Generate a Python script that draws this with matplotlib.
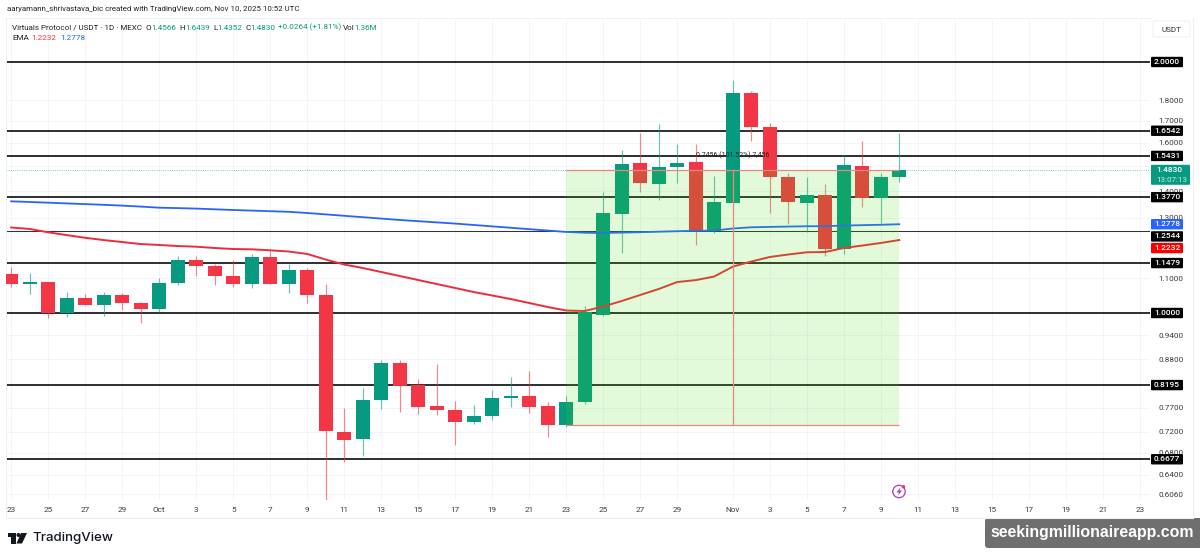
import matplotlib
matplotlib.use("Agg")
import matplotlib.pyplot as plt
from matplotlib.patches import Rectangle, FancyBboxPatch, Circle, Polygon
from matplotlib.ticker import NullLocator

# day index 0 = Sep 23
opens = [1.1137, 1.0834, 1.0893, 0.9992, 1.0431, 1.0215, 1.0518, 1.0280, 1.0103, 1.0872,
         1.1586, 1.1396, 1.1076, 1.0825, 1.1672, 1.0843, 1.1260, 1.0509, 0.7199, 0.7056,
         0.7864, 0.8704, 0.8190, 0.7728, 0.7644, 0.7400, 0.7525, 0.7901, 0.7951, 0.7728,
         0.7339, 0.7821, 0.9945, 1.3144, 1.5133, 1.4280, 1.4955, 1.5162, 1.2551, 1.3562,
         1.8347, 1.6700, 1.4548, 1.3562, 1.3841, 1.1923, 1.5021, 1.3727, 1.4566]
highs = [1.1365, 1.1158, 1.0893, 1.0606, 1.0539, 1.0606, 1.0559, 1.0317, 1.1006, 1.1705,
         1.1705, 1.1449, 1.1576, 1.1771, 1.1878, 1.1449, 1.1322, 1.0834, 0.7686, 0.8124,
         0.8782, 0.8782, 0.8341, 0.8679, 0.7842, 0.7749, 0.8085, 0.8372, 0.8519, 0.7827,
         0.7951, 1.0195, 1.3969, 1.5690, 1.6427, 1.6854, 1.5949, 1.5949, 1.4600, 1.9033,
         1.8480, 1.6915, 1.4708, 1.4548, 1.4280, 1.5471, 1.6080, 1.4733, 1.6439]
lows = [1.0753, 1.0539, 0.9863, 0.9898, 1.0215, 0.9926, 1.0083, 0.9736, 1.0036, 1.0803,
        1.1085, 1.0795, 1.0753, 1.0724, 1.0843, 1.0577, 1.0271, 0.5967, 0.6632, 0.6745,
        0.7665, 0.7608, 0.7566, 0.7539, 0.6945, 0.7353, 0.7440, 0.7720, 0.7581, 0.7095,
        0.7304, 0.7777, 0.9917, 1.1793, 1.3980, 1.3661, 1.4332, 1.2066, 1.2462, 1.3562,
        1.6095, 1.3170, 1.2786, 1.2516, 1.1705, 1.1771, 1.3411, 1.2833, 1.4352]
closes = [1.0825, 1.0893, 0.9992, 1.0431, 1.0215, 1.0518, 1.0271, 1.0103, 1.0872, 1.1586,
          1.1387, 1.1067, 1.0825, 1.1672, 1.0843, 1.1260, 1.0501, 0.7219, 0.7042, 0.7864,
          0.8704, 0.8174, 0.7720, 0.7650, 0.7400, 0.7525, 0.7901, 0.7958, 0.7707, 0.7339,
          0.7821, 1.0028, 1.3170, 1.5104, 1.4308, 1.4967, 1.5133, 1.2551, 1.3599, 1.8347,
          1.6700, 1.4572, 1.3577, 1.3841, 1.1923, 1.5049, 1.3727, 1.4572, 1.4830]
ema_red = [1.2664, 1.2612, 1.2496, 1.2400, 1.2308, 1.2232, 1.2165, 1.2098, 1.2066, 1.2032,
           1.2009, 1.1966, 1.1933, 1.1923, 1.1890, 1.1851, 1.1771, 1.1591, 1.1432, 1.1324,
           1.1199, 1.1076, 1.0953, 1.0834, 1.0715, 1.0597, 1.0495, 1.0394, 1.0280, 1.0167,
           1.0069, 1.0055, 1.0181, 1.0337, 1.0510, 1.0685, 1.0893, 1.0950, 1.1060, 1.1365,
           1.1527, 1.1672, 1.1753, 1.1825, 1.1835, 1.1966, 1.2047, 1.2133, 1.2232]
ema_blue = [1.3613, 1.3587, 1.3562, 1.3534, 1.3508, 1.3482, 1.3452, 1.3416, 1.3375, 1.3360,
            1.3342, 1.3316, 1.3290, 1.3268, 1.3246, 1.3224, 1.3181, 1.3130, 1.3079, 1.3029,
            1.2979, 1.2929, 1.2886, 1.2844, 1.2801, 1.2752, 1.2703, 1.2654, 1.2605, 1.2557,
            1.2509, 1.2481, 1.2472, 1.2486, 1.2499, 1.2517, 1.2534, 1.2548, 1.2558, 1.2628,
            1.2670, 1.2684, 1.2696, 1.2707, 1.2710, 1.2731, 1.2745, 1.2759, 1.2778]

levels = [2.0, 1.6542, 1.5431, 1.3770, 1.1479, 1.0, 0.8195, 0.6677]
thin_level = 1.2544
price_ticks = [1.8, 1.7, 1.6, 1.5, 1.4, 1.3, 1.1, 0.94, 0.88, 0.77, 0.72, 0.68, 0.64, 0.606]
day_ticks = [0, 2, 4, 6, 8, 10, 12, 14, 16, 18, 20, 22, 24, 26, 28, 30, 32, 34, 36,
             39, 41, 43, 45, 47, 49, 51, 53, 55, 57, 59, 61]
day_labels = ["23", "25", "27", "29", "Oct", "3", "5", "7", "9", "11", "13", "15", "17", "19", "21",
              "23", "25", "27", "29", "Nov", "3", "5", "7", "9", "11", "13", "15", "17", "19", "21", "23"]
box_days = (30, 48)
box_prices = (0.7339, 1.4830)
measure_day = 39

GREEN = "#089981"
RED = "#F23645"
SALMON = "#E8877C"
FONT = "Roboto"
plt.rcParams["font.family"] = FONT

W, H = 1200, 558
PANE_L, PANE_R, PANE_T, PANE_B = 6, 1150, 18, 500
fig = plt.figure(figsize=(W / 100, H / 100), dpi=100)
ax = fig.add_axes([PANE_L / W, 1 - PANE_B / H, (PANE_R - PANE_L) / W, (PANE_B - PANE_T) / H])
ax.set_yscale("log")
ax.set_xlim((PANE_L - 11.2) / 18.5, (PANE_R - 11.2) / 18.5)
ax.set_ylim(2 ** ((313 - PANE_B) / 251), 2 ** ((313 - PANE_T) / 251))

ax.yaxis.set_minor_locator(NullLocator())
ax.yaxis.tick_right()
ax.set_yticks(price_ticks)
# 1.5000 sits behind the last price tag
ax.set_yticklabels(["" if p == 1.5 else "%.4f" % p for p in price_ticks])
ax.set_xticks(day_ticks)
ax.set_xticklabels(day_labels)
ax.tick_params(axis="both", length=0, labelsize=5.9, labelcolor="#3a3a3a")
ax.tick_params(axis="y", pad=6)
ax.tick_params(axis="x", pad=5)
ax.grid(True, color="#f3f4f7", lw=0.7, zorder=0)
ax.set_axisbelow(True)
for name, sp in ax.spines.items():
    sp.set_color("#eef0f4")
    sp.set_linewidth(0.7)
    if name in ("right", "bottom"):
        sp.set_visible(False)

for lv in levels:
    ax.axhline(lv, color="black", lw=1.15, zorder=1)
ax.axhline(thin_level, color="#333333", lw=0.75, zorder=1)
ax.axhline(closes[-1], color=GREEN, lw=0.6, ls=":", alpha=0.7, zorder=1)

days = range(len(opens))
colors = [GREEN if c >= o else RED for o, c in zip(opens, closes)]
ax.vlines(days, lows, highs, colors=colors, lw=0.85, alpha=0.6, zorder=2)
ax.bar(days, [abs(c - o) for o, c in zip(opens, closes)],
       bottom=[min(o, c) for o, c in zip(opens, closes)],
       width=0.74, color=colors, zorder=3)

ax.plot(days, ema_blue, color="#2962FF", lw=1.3, zorder=4)
ax.plot(days, ema_red, color="#EE2B3B", lw=1.4, zorder=4)

# measure tool sits over the candles
ax.add_patch(Rectangle((box_days[0], box_prices[0]), box_days[1] - box_days[0],
                       box_prices[1] - box_prices[0], facecolor=(62 / 255, 228 / 255, 0),
                       alpha=0.15, lw=0, zorder=5))
ax.hlines(box_prices, box_days[0], box_days[1], color=SALMON, lw=0.9, zorder=6)
ax.vlines(measure_day, box_prices[0], box_prices[1], color=SALMON, lw=0.9, zorder=6)
ax.text(measure_day, 1.5431, "0.7456 (101.52%) 7,456", ha="center", va="center",
        fontsize=5, color="#222222", zorder=7)

# price badges, stacked ones get their own y so they do not overlap
badges = [("2.0000", 2.0, 0, "black"), ("1.6542", 1.6542, 0, "black"), ("1.5431", 1.5431, 0, "black"),
          ("1.3770", 1.3770, 0, "black"), ("1.2778", 1.2778, 0, "#2962FF"),
          ("1.2544", 1.2544, -5.5, "black"), ("1.2232", 1.2232, -8, "#F80000"),
          ("1.1479", 1.1479, 0, "black"), ("1.0000", 1.0, 0, "black"),
          ("0.8195", 0.8195, 0, "black"), ("0.6677", 0.6677, 0, "black")]
ov = fig.add_axes([0, 0, 1, 1], zorder=10)
ov.set_xlim(0, W)
ov.set_ylim(H, 0)
ov.axis("off")
data_to_ov = ax.transData + ov.transData.inverted()


def py_of(price):
    return data_to_ov.transform((0, price))[1]


# last price tag
tag_y = py_of(closes[-1]) + 4.5
ov.add_patch(FancyBboxPatch((1151, tag_y - 10), 39, 20, boxstyle="round,pad=0,rounding_size=1",
                            fc=GREEN, ec="none"))
ov.text(1156, tag_y - 4.7, "1.4830", color="white", fontsize=6, va="center", ha="left", weight="medium")
ov.text(1156, tag_y + 5, "13:07:13", color="#c9efe6", fontsize=5.8, va="center", ha="left")

for label, price, off, col in badges:
    y = py_of(price) - off
    ov.add_patch(FancyBboxPatch((1151, y - 5.2), 32, 10.4, boxstyle="round,pad=0,rounding_size=1",
                                fc=col, ec="none"))
    ov.text(1167, y, label, color="white", fontsize=6, va="center", ha="center", weight="medium")

# USDT button and outer frame of the widget
ov.add_patch(FancyBboxPatch((1153, 21), 37, 16, boxstyle="round,pad=0,rounding_size=2",
                            fc="white", ec="#eef0f4", lw=0.7))
ov.text(1171, 29.5, "USDT", fontsize=5.9, color="#333333", ha="center", va="center")
ov.plot([6, 1193], [518, 518], color="#eceef2", lw=0.8)
ov.plot([1193, 1193], [18, 518], color="#eceef2", lw=0.8)
ov.plot([6, 6], [500, 518], color="#eceef2", lw=0.8)

ov.text(7, 9.5, "aaryamann_shrivastava_bic created with TradingView.com, Nov 10, 2025 10:52 UTC",
        fontsize=5.7, color="#222222", va="center")

# legend rows
ov.text(12, 27.5, "Virtuals Protocol / USDT · 1D · MEXC", fontsize=5.75, color="#222222", va="center")
row1 = [("O", "#222222", 145), ("1.4566", GREEN, 151),
        ("H", "#222222", 179), ("1.6439", GREEN, 185), ("L", "#222222", 213), ("1.4352", GREEN, 217),
        ("C", "#222222", 245), ("1.4830", GREEN, 250), ("+0.0264 (+1.81%)", GREEN, 278),
        ("Vol", "#222222", 343), ("1.36M", GREEN, 354)]
for s, col, x in row1:
    ov.text(x, 27.5, s, fontsize=5.9, color=col, va="center")
ov.text(12, 38.5, "EMA", fontsize=5.9, color="#222222", va="center")
ov.text(31, 38.5, "1.2232", fontsize=5.9, color=RED, va="center")
ov.text(60, 38.5, "1.2778", fontsize=5.9, color="#2962FF", va="center")

# TradingView logo
ov.add_patch(Polygon([(7.5, 533), (15.5, 533), (15.5, 543.5), (11, 543.5), (11, 537), (7.5, 537)], fc="#131722", ec="none"))
ov.add_patch(Circle((18.5, 535), 2.0, fc="#131722", ec="none"))
ov.add_patch(Polygon([(21, 533), (27, 533), (22, 543.5), (16.5, 543.5)], fc="#131722", ec="none"))
ov.text(32, 538.5, "TradingView", fontsize=9.6, family="Inter", weight="medium", color="#131722", va="center")

# alert icon
ov.add_patch(Circle((899, 491.5), 6.2, fc="none", ec="#a640bd", lw=0.9))
ov.add_patch(Polygon([(900.5, 487.5), (896.5, 492.5), (899, 492.5), (898, 495.5), (902, 490.5), (899.5, 490.5)],
                     fc="#a640bd", ec="none"))
ov.add_patch(Circle((903.5, 486.8), 1.7, fc=RED, ec="none"))

# site stamp
ov.add_patch(FancyBboxPatch((985, 518), 230, 30, boxstyle="round,pad=0,rounding_size=3",
                            fc="#6f6f6f", ec="none"))
ov.text(990, 533, "seekingmillionaireapp.com", fontsize=11.4, family="Liberation Sans",
        weight="bold", color="white", va="center")

fig.savefig("out.png", dpi=100)
